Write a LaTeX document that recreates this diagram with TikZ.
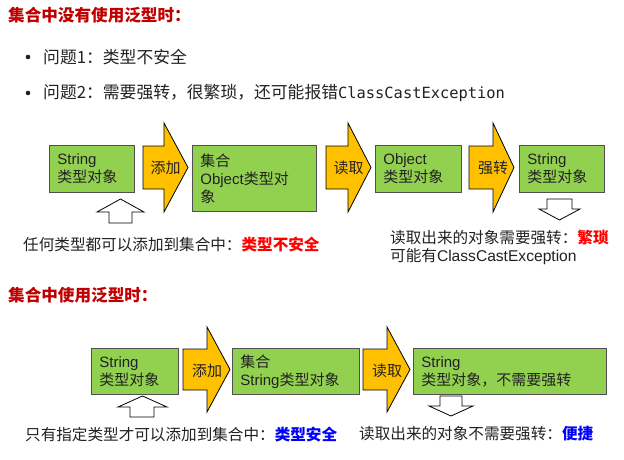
\documentclass[tikz,border=0pt]{standalone}
\usepackage{fontspec}
\setmainfont{Liberation Sans}
\setmonofont{DejaVu Sans Mono}
\newfontfamily\cjk{Noto Sans CJK SC}
\definecolor{gfill}{HTML}{92D050}
\definecolor{gline}{HTML}{505050}
\definecolor{afill}{HTML}{FFC000}
\definecolor{ttl}{HTML}{C00000}
\definecolor{txt}{HTML}{222222}
\tikzset{
  gbox/.style={draw=gline, line width=0.8pt, fill=gfill, anchor=north west, align=left,
    inner xsep=8pt, inner ysep=0pt, font=\fontsize{15}{18}\selectfont, text=txt},
  barrow/.style={draw=black, line width=0.8pt, fill=afill, line join=miter},
  harrow/.style={draw=black, line width=0.8pt, fill=white, line join=miter},
  alabel/.style={font=\cjk\fontsize{15}{18}\selectfont, text=txt, inner sep=0pt},
  ttlstyle/.style={font=\cjk\bfseries\fontsize{16.6}{19}\selectfont, text=ttl, anchor=west, inner sep=0pt},
  bullettext/.style={font=\cjk\fontsize{16.8}{19}\selectfont, text=txt, anchor=west, inner sep=0pt},
  note/.style={font=\cjk\fontsize{15.6}{19}\selectfont, text=txt, anchor=west, inner sep=0pt, align=left},
}
\begin{document}
\begin{tikzpicture}[x=1pt,y=-1pt]
\useasboundingbox[fill=white] (0,0) rectangle (624,460);
% titles and bullets
\node[ttlstyle] (t1) at (8,15.5) {集合中没有使用泛型时：};
\fill[txt] (28,57) circle (2.3);
\node[bullettext] (q1) at (43,57) {问题1：类型不安全};
\fill[txt] (28,93) circle (2.3);
\node[bullettext] (q2) at (43,93) {问题2：需要强转，很繁琐，还可能报错{\ttfamily\fontsize{15.4}{19}\selectfont ClassCastException}};
% row 1 boxes
\node[gbox, minimum width=85, minimum height=47, text width=69] (b1) at (49,145) {String\\{\cjk 类型对象}};
\node[gbox, minimum width=124, minimum height=66, text width=108] (b2) at (192,145) {{\cjk 集合}\\Object{\cjk 类型对}\\{\cjk 象}};
\node[gbox, minimum width=86, minimum height=47, text width=70] (b3) at (375,145) {Object\\{\cjk 类型对象}};
\node[gbox, minimum width=85, minimum height=47, text width=69] (b4) at (519,145) {String\\{\cjk 类型对象}};
% row 1 arrows
\draw[barrow] (143,146)--(164,146)--(164,123)--(188,167.5)--(164,212)--(164,189)--(143,189)--cycle;
\node[alabel] (a1) at (165.5,168) {添加};
\draw[barrow] (326,146)--(348,146)--(348,123)--(371,167.5)--(348,212)--(348,189)--(326,189)--cycle;
\node[alabel] (a2) at (348.5,168) {读取};
\draw[barrow] (469,146)--(493,146)--(493,123)--(514,167.5)--(493,212)--(493,189)--(469,189)--cycle;
\node[alabel] (a3) at (493,168) {强转};
\draw[harrow] (109,223)--(109,212)--(97,212)--(120.5,199)--(144,212)--(132,212)--(132,223)--cycle;
\draw[harrow] (547,199)--(572,199)--(572,209)--(580,209)--(559.5,220)--(539,209)--(547,209)--cycle;
\node[note] (n1) at (23,245) {任何类型都可以添加到集合中：{\bfseries\color{red}类型不安全}};
\node[note] (n2) at (390,238) {读取出来的对象需要强转：{\bfseries\color{red}繁琐}};
\node[note] (n3) at (390,257) {可能有{\rmfamily\fontsize{15.6}{19}\selectfont ClassCastException}};
% row 2
\node[ttlstyle] (t2) at (8,295) {集合中使用泛型时：};
\node[gbox, minimum width=87, minimum height=46, text width=71] (b5) at (91,348) {String\\{\cjk 类型对象}};
\node[gbox, minimum width=127, minimum height=46, text width=111] (b6) at (232,348) {{\cjk 集合}\\String{\cjk 类型对象}};
\node[gbox, minimum width=193, minimum height=46, text width=177] (b7) at (413,348) {String\\{\cjk 类型对象，不需要强转}};
\draw[barrow] (183,349)--(207,349)--(207,327)--(230,369.5)--(207,412)--(207,390)--(183,390)--cycle;
\node[alabel] (a4) at (207,371) {添加};
\draw[barrow] (363,349)--(387,349)--(387,327)--(410,369.5)--(387,412)--(387,390)--(363,390)--cycle;
\node[alabel] (a5) at (387,371) {读取};
\draw[harrow] (130,417)--(130,407)--(118,407)--(142.5,396)--(167,407)--(154,407)--(154,417)--cycle;
\draw[harrow] (440,396)--(462,396)--(462,406)--(473,406)--(451,416)--(429,406)--(440,406)--cycle;
\node[note] (n4) at (25,435) {只有指定类型才可以添加到集合中：{\bfseries\color{blue}类型安全}};
\node[note] (n5) at (359,434) {读取出来的对象不需要强转：{\bfseries\color{blue}便捷}};
\end{tikzpicture}
\end{document}
